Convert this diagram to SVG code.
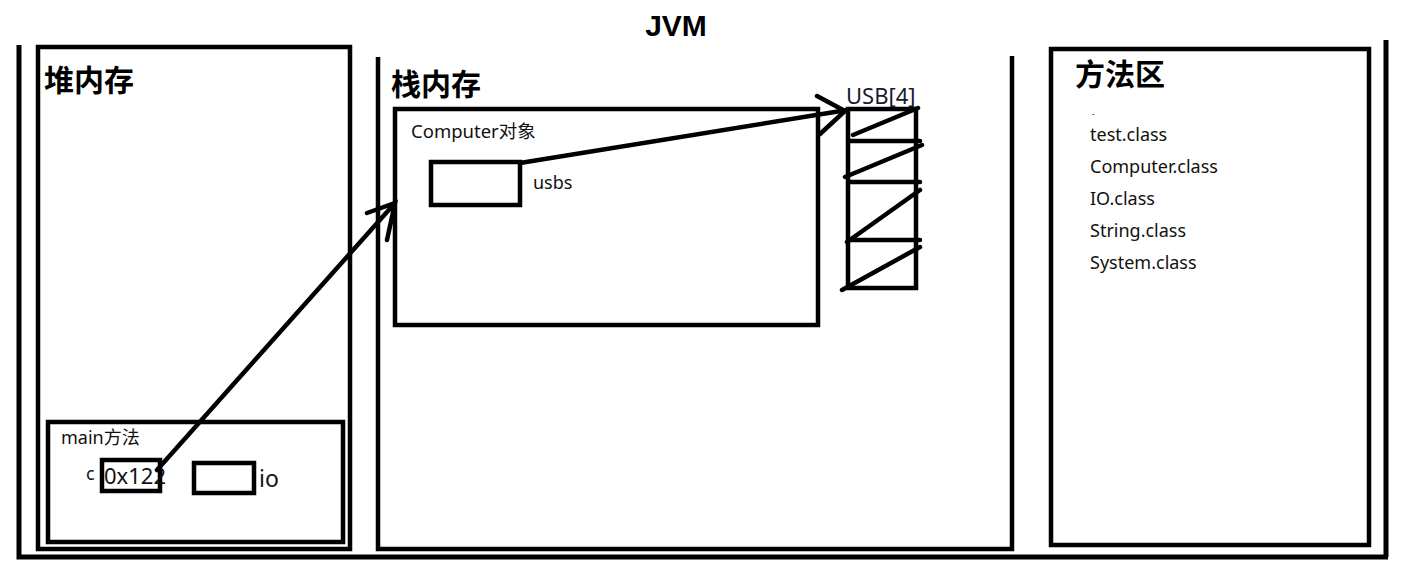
<svg xmlns="http://www.w3.org/2000/svg" width="1408" height="579" viewBox="0 0 1408 579">
<style>
.b{fill:none;stroke:#000;stroke-width:4.5}
.l{stroke:#000;stroke-width:4.5;stroke-linecap:round;fill:none}
.h{font-family:"Noto Sans CJK SC","Noto Sans",sans-serif;font-weight:bold;font-size:30px;fill:#000}
.t{font-family:"Noto Sans","Noto Sans CJK SC",sans-serif;font-size:18px;fill:#111}
</style>
<rect width="1408" height="579" fill="#fff"/>
<g id="jvm">
<text x="676" y="36" text-anchor="middle" font-family="Liberation Sans,sans-serif" font-weight="bold" font-size="30" fill="#000">JVM</text>
<path d="M19,45 V557 H1388 M1386,40 V557" class="b" style="stroke-width:5"/>
</g>
<g id="heap">
<rect x="38" y="47" width="312" height="502" class="b"/>
<text x="44" y="91" class="h">堆内存</text>
</g>
<g id="main">
<rect x="48" y="422" width="295" height="120" class="b"/>
<text x="61" y="444" class="t" style="font-size:18px">main方法</text>
<text x="86" y="480" class="t" style="font-size:18px">c</text>
<rect x="102" y="460" width="58" height="31" class="b"/>
<text x="104" y="484" class="t" style="font-size:22px">0x122</text>
<rect x="194" y="463" width="60" height="30" class="b"/>
<text x="259" y="487" class="t" style="font-size:23px">io</text>
</g>
<g id="stack">
<path d="M378,57 V549 H1012 V56" class="b"/>
<text x="391" y="95" class="h">栈内存</text>
</g>
<g id="computer">
<rect x="395" y="109" width="423" height="216" class="b"/>
<text x="411" y="138" class="t" style="font-size:18.5px">Computer对象</text>
<rect x="431" y="162" width="89" height="43" class="b"/>
<text x="533" y="189" class="t">usbs</text>
</g>
<g id="usb">
<text x="846" y="104" class="t" style="font-size:22px;fill:#1a1a2a">USB[4]</text>
<rect x="848" y="109" width="68" height="179" class="b"/>
<path d="M848,141 H920 M850,182 H920 M848,240 H920" class="l"/>
<path d="M853,135 L918,108 M845,177 L922,145 M847,242 L920,190 M842,290 L920,247" class="l"/>
</g>
<g id="method-area">
<rect x="1051" y="49" width="318" height="496" class="b"/>
<text x="1075" y="85" class="h">方法区</text>
<text x="1092" y="117" class="t" style="font-size:8px">-</text>
<text x="1090" y="141" class="t">test.class</text>
<text x="1090" y="173" class="t">Computer.class</text>
<text x="1090" y="205" class="t">IO.class</text>
<text x="1090" y="237" class="t">String.class</text>
<text x="1090" y="269" class="t">System.class</text>
</g>
<g id="connectors">
<path d="M157,470 L395,203 M367,213 L395,203 L387,240" class="l"/>
<path d="M520,163 L847,110 M817,96 L845,111 L820,134" class="l"/>
</g>
</svg>
